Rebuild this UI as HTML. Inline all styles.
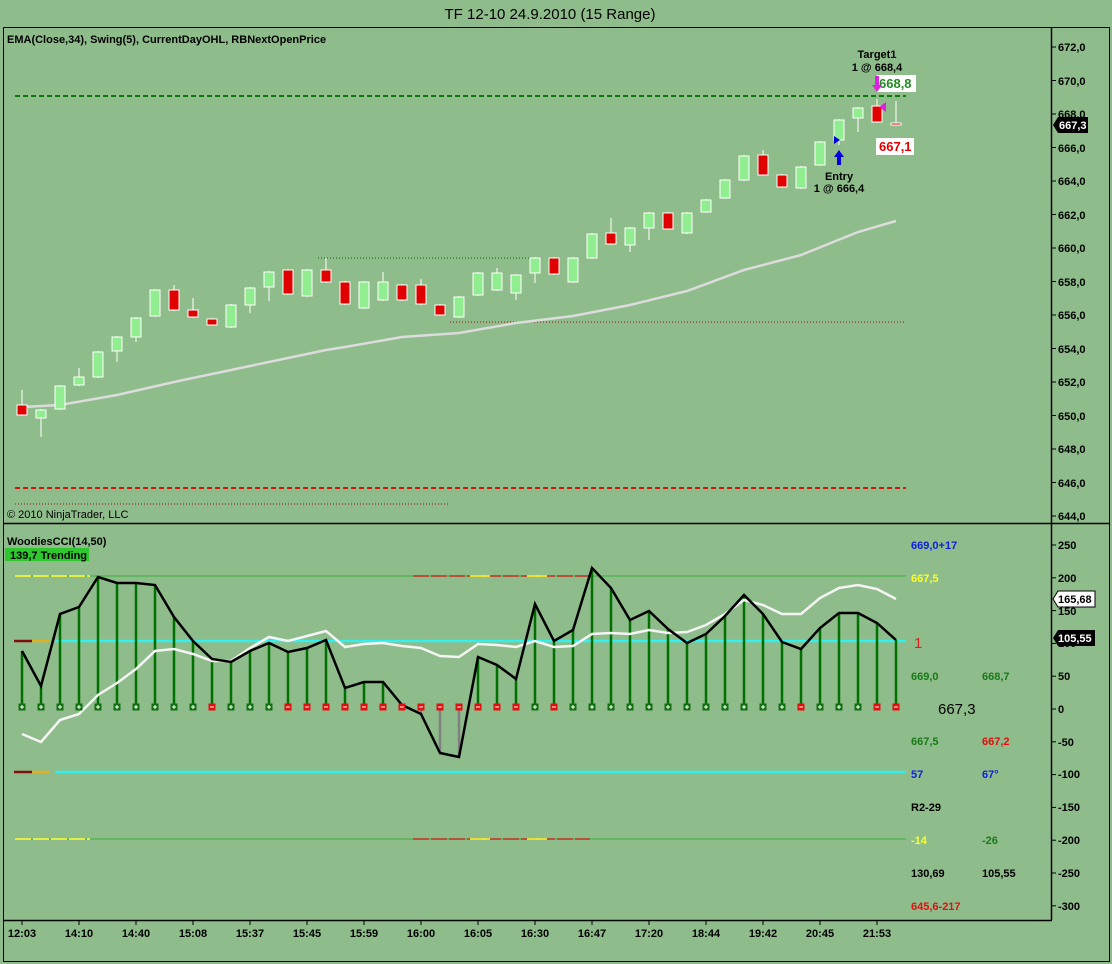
<!DOCTYPE html>
<html><head><meta charset="utf-8">
<style>
html,body{margin:0;padding:0;background:#8fbc8b;}
svg{display:block;font-family:"Liberation Sans",Arial,sans-serif;}
.b{font-weight:bold;font-size:11px;fill:#000;}
</style></head>
<body>
<svg id="s" width="1112" height="964" viewBox="0 0 1112 964" xmlns="http://www.w3.org/2000/svg">
<rect width="1112" height="964" fill="#8fbc8b"/>
<text x="550" y="19" text-anchor="middle" font-size="15" fill="#000">TF 12-10  24.9.2010 (15 Range)</text>
<!-- panel borders -->
<rect x="3.5" y="27.5" width="1106" height="934" fill="none" stroke="#000" stroke-width="1"/>
<line x1="3" y1="523.5" x2="1110" y2="523.5" stroke="#000" stroke-width="1.5"/>
<line x1="1051.5" y1="28" x2="1051.5" y2="920" stroke="#000" stroke-width="1.5"/>
<line x1="3" y1="920.5" x2="1052" y2="920.5" stroke="#000" stroke-width="1.5"/>
<text x="7" y="43" class="b">EMA(Close,34), Swing(5), CurrentDayOHL, RBNextOpenPrice</text>
<text x="7" y="518" font-size="11" fill="#000">© 2010 NinjaTrader, LLC</text>
<text x="7" y="545" class="b">WoodiesCCI(14,50)</text>
<rect x="5" y="548" width="84" height="13" fill="#2ec82e"/>
<text x="10" y="559" class="b">139,7 Trending</text>

<!-- price lines -->
<line x1="15" y1="96" x2="906" y2="96" stroke="#0a7a0a" stroke-width="2" stroke-dasharray="5,3"/>
<line x1="15" y1="488" x2="906" y2="488" stroke="#e01010" stroke-width="2" stroke-dasharray="5,3"/>
<line x1="318" y1="258" x2="535" y2="258" stroke="#0a6a0a" stroke-width="1" stroke-dasharray="1,2"/>
<line x1="450" y1="322" x2="906" y2="322" stroke="#a01010" stroke-width="1" stroke-dasharray="1,2"/>
<line x1="15" y1="504" x2="450" y2="504" stroke="#a01010" stroke-width="1" stroke-dasharray="1,2"/>

<g id="g"></g>

<!-- price axis -->
<g class="b">
<text x="1058" y="51">672,0</text><text x="1058" y="85">670,0</text><text x="1058" y="118">668,0</text>
<text x="1058" y="152">666,0</text><text x="1058" y="185">664,0</text><text x="1058" y="219">662,0</text>
<text x="1058" y="252">660,0</text><text x="1058" y="286">658,0</text><text x="1058" y="319">656,0</text>
<text x="1058" y="353">654,0</text><text x="1058" y="386">652,0</text><text x="1058" y="420">650,0</text>
<text x="1058" y="453">648,0</text><text x="1058" y="487">646,0</text><text x="1058" y="520">644,0</text>
</g>
<polygon points="1053,125 1058,117 1088,117 1088,133 1058,133" fill="#000"/>
<text x="1059" y="129" class="b" fill="#fff" style="fill:#fff">667,3</text>

<!-- annotations -->
<text x="877" y="58" class="b" text-anchor="middle">Target1</text>
<text x="877" y="71" class="b" text-anchor="middle">1 @ 668,4</text>
<rect x="877" y="75" width="39" height="17" fill="#fff"/>
<text x="879" y="88" font-size="13" font-weight="bold" fill="#228b22">668,8</text>
<rect x="876" y="138" width="38" height="17" fill="#fff"/>
<text x="879" y="151" font-size="13" font-weight="bold" fill="#e00000">667,1</text>
<text x="839" y="180" class="b" text-anchor="middle">Entry</text>
<text x="839" y="192" class="b" text-anchor="middle">1 @ 666,4</text>
<polygon points="839,150 834,157 837,157 837,165 841,165 841,157 844,157" fill="#0000e0"/>
<polygon points="834,136 834,144 840,140" fill="#0000e0"/>
<polygon points="877,92 872,85 875,85 875,76 879,76 879,85 882,85" fill="#e020e0"/>
<polygon points="886,102 886,112 879,107" fill="#e020e0"/>

<!-- lower panel lines -->
<line x1="15" y1="576" x2="906" y2="576" stroke="#3ab03a" stroke-width="1"/>
<line x1="15" y1="576" x2="90" y2="576" stroke="#ffff30" stroke-width="1.5" stroke-dasharray="16,2"/>
<line x1="413" y1="576" x2="590" y2="576" stroke="#c03020" stroke-width="1.5" stroke-dasharray="16,2"/>
<line x1="470" y1="576" x2="490" y2="576" stroke="#ffff30" stroke-width="1.5"/>
<line x1="527" y1="576" x2="547" y2="576" stroke="#ffff30" stroke-width="1.5"/>
<line x1="15" y1="839" x2="906" y2="839" stroke="#3ab03a" stroke-width="1"/>
<line x1="15" y1="839" x2="90" y2="839" stroke="#ffff30" stroke-width="1.5" stroke-dasharray="16,2"/>
<line x1="413" y1="839" x2="590" y2="839" stroke="#c03020" stroke-width="1.5" stroke-dasharray="16,2"/>
<line x1="470" y1="839" x2="490" y2="839" stroke="#ffff30" stroke-width="1.5"/>
<line x1="527" y1="839" x2="547" y2="839" stroke="#ffff30" stroke-width="1.5"/>
<line x1="55" y1="641" x2="906" y2="641" stroke="#30f0f0" stroke-width="2.5"/>
<line x1="14" y1="641" x2="32" y2="641" stroke="#801010" stroke-width="2.5"/>
<line x1="32" y1="641" x2="50" y2="641" stroke="#e0b020" stroke-width="2.5"/>
<line x1="55" y1="772" x2="906" y2="772" stroke="#30f0f0" stroke-width="2.5"/>
<line x1="14" y1="772" x2="32" y2="772" stroke="#801010" stroke-width="2.5"/>
<line x1="32" y1="772" x2="50" y2="772" stroke="#e0b020" stroke-width="2.5"/>

<g id="c"></g>

<!-- lower right labels -->
<g class="b">
<text x="911" y="549" fill="#1020e0" style="fill:#1020e0">669,0+17</text>
<text x="911" y="582" style="fill:#ffff20">667,5</text>
<text x="911" y="680" style="fill:#1a7a1a">669,0</text>
<text x="982" y="680" style="fill:#1a7a1a">668,7</text>
<text x="911" y="745" style="fill:#1a7a1a">667,5</text>
<text x="982" y="745" style="fill:#e01010">667,2</text>
<text x="911" y="778" style="fill:#1020e0">57</text>
<text x="982" y="778" style="fill:#1020e0">67°</text>
<text x="911" y="811">R2-29</text>
<text x="911" y="844" style="fill:#ffff20">-14</text>
<text x="982" y="844" style="fill:#1a7a1a">-26</text>
<text x="911" y="877">130,69</text>
<text x="982" y="877">105,55</text>
<text x="911" y="910" style="fill:#e01010">645,6-217</text>
</g>
<text x="914" y="648" font-size="15" fill="#e02020">1</text>
<text x="938" y="714" font-size="15" fill="#000">667,3</text>

<g class="b">
<text x="1058" y="549">250</text><text x="1058" y="582">200</text><text x="1058" y="615">150</text>
<text x="1058" y="647">100</text><text x="1058" y="680">50</text><text x="1058" y="713">0</text>
<text x="1058" y="746">-50</text><text x="1058" y="778">-100</text><text x="1058" y="811">-150</text>
<text x="1058" y="844">-200</text><text x="1058" y="877">-250</text><text x="1058" y="910">-300</text>
</g>
<polygon points="1053,599 1058,591 1095,591 1095,607 1058,607" fill="#fff" stroke="#000"/>
<text x="1058" y="603" class="b">165,68</text>
<polygon points="1053,638 1058,630 1095,630 1095,646 1058,646" fill="#000"/>
<text x="1058" y="642" class="b" style="fill:#fff">105,55</text>

<!-- time axis -->
<g class="b" text-anchor="middle">
<text x="22" y="937">12:03</text><text x="79" y="937">14:10</text><text x="136" y="937">14:40</text>
<text x="193" y="937">15:08</text><text x="250" y="937">15:37</text><text x="307" y="937">15:45</text>
<text x="364" y="937">15:59</text><text x="421" y="937">16:00</text><text x="478" y="937">16:05</text>
<text x="535" y="937">16:30</text><text x="592" y="937">16:47</text><text x="649" y="937">17:20</text>
<text x="706" y="937">18:44</text><text x="763" y="937">19:42</text><text x="820" y="937">20:45</text>
<text x="877" y="937">21:53</text>
</g>
</svg>
<script>
var NS="http://www.w3.org/2000/svg";
function el(p,t,a){var e=document.createElementNS(NS,t);for(var k in a)e.setAttribute(k,a[k]);p.appendChild(e);return e;}
var g=document.getElementById("g"),c=document.getElementById("c"),s=document.getElementById("s");
// ticks
for(var i=0;i<15;i++){var y=47+i*33.5;el(s,"line",{x1:1051,x2:1056,y1:y,y2:y,stroke:"#000"});}
for(var i=0;i<12;i++){var y=545+i*32.8;el(s,"line",{x1:1051,x2:1056,y1:y,y2:y,stroke:"#000"});}
for(var i=0;i<16;i++){var x=22+i*57;el(s,"line",{x1:x,x2:x,y1:920,y2:925,stroke:"#000"});}
// candles: [top,bottom,red,wickTop,wickBot]
var C=[[405,415,1,390,416],[410,418,0,409,437],[386,409,0,385,410],[377,385,0,368,386],[352,377,0,351,378],[337,351,0,336,362],[318,337,0,317,342],[290,316,0,289,317],[290,310,1,285,311],[310,317,1,298,318],[319,325,1,318,326],[305,327,0,304,328],[288,305,0,287,313],[272,287,0,271,301],[270,294,1,269,295],[270,296,0,269,297],[270,282,1,258,283],[282,304,1,281,305],[282,308,0,281,309],[282,300,0,272,301],[285,300,1,284,301],[285,304,1,279,305],[305,315,1,304,316],[297,317,0,296,318],[273,295,0,272,296],[273,290,0,268,291],[275,293,0,274,300],[258,273,0,257,283],[258,274,1,257,275],[258,282,0,257,283],[234,258,0,233,259],[233,244,1,218,245],[228,245,0,227,252],[213,228,0,212,240],[213,229,1,212,230],[213,233,0,212,234],[200,212,0,199,213],[180,198,0,179,199],[156,180,0,155,181],[155,175,1,150,176],[175,187,1,174,188],[167,188,0,166,189],[142,165,0,141,166],[120,140,0,119,145],[108,118,0,107,132],[106,122,1,99,123],[123,125,1,101,126]];
var X=function(i){return 22+i*19;};
// EMA
var E=[[22,407],[60,405],[117,395],[174,382],[231,370],[288,358],[326,350],[345,347],[402,337],[459,333],[516,323],[573,316],[630,305],[687,291],[744,270],[801,255],[858,232],[896,221]];
el(g,"polyline",{points:E.map(function(p){return p.join(",")}).join(" "),fill:"none",stroke:"#dcdcdc","stroke-width":2.5});
C.forEach(function(d,i){var x=X(i);
 el(g,"line",{x1:x,x2:x,y1:d[3],y2:d[4],stroke:"#fff","stroke-width":1});
 el(g,"rect",{x:x-5,y:d[0],width:10,height:Math.max(2,d[1]-d[0]),fill:d[2]?"#e00000":"#90ee90",stroke:"#fff","stroke-width":1});
});
// CCI
var K=[651,686,614,607,577,583,583,585,617,641,659,662,651,643,652,648,640,688,682,682,705,714,753,757,657,665,679,604,641,630,568,588,620,611,629,643,634,616,595,614,642,649,628,613,613,623,640];
var W=[734,742,720,714,695,683,669,651,649,654,661,661,648,637,641,636,631,647,644,643,646,648,656,657,644,645,647,641,647,646,634,633,634,630,633,632,625,614,600,605,614,614,598,588,585,589,599];
var R={10:1,14:1,15:1,16:1,17:1,18:1,19:1,20:1,21:1,22:1,23:1,24:1,25:1,26:1,28:1,41:1,45:1,46:1};
K.forEach(function(y,i){var x=X(i);el(c,"line",{x1:x,x2:x,y1:709,y2:y,stroke:y>709?"#808080":"#007000","stroke-width":2.5});});
el(c,"polyline",{points:W.map(function(y,i){return X(i)+","+y}).join(" "),fill:"none",stroke:"#f4f4f4","stroke-width":2.5});
el(c,"polyline",{points:K.map(function(y,i){return X(i)+","+y}).join(" "),fill:"none",stroke:"#000","stroke-width":2.5});
K.forEach(function(y,i){var x=X(i),r=R[i];
 el(c,"rect",{x:x-3.5,y:703.5,width:7,height:7,fill:r?"#e01010":"#107010"});
 el(c,"line",{x1:x-2,x2:x+2,y1:707,y2:707,stroke:"#fff","stroke-width":1});
 if(!r)el(c,"line",{x1:x,x2:x,y1:705,y2:709,stroke:"#fff","stroke-width":1});
});
</script>
</body></html>
